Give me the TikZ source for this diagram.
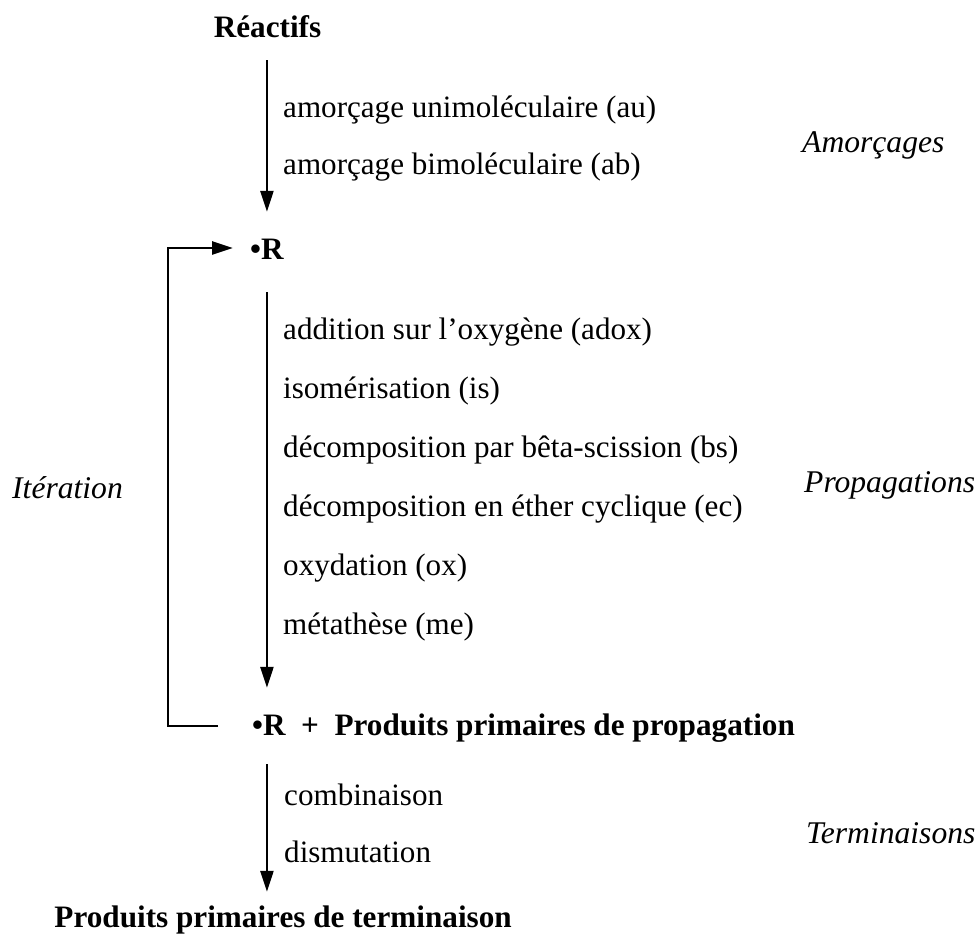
\documentclass[tikz,border=0pt]{standalone}
\usepackage{fontspec}
\setmainfont{Liberation Serif}
\usetikzlibrary{arrows.meta}
\begin{document}
\begin{tikzpicture}[x=1pt,y=-1pt,
  every node/.style={inner sep=0pt,font=\fontsize{31.1}{36}\selectfont},
  main/.style={font=\fontsize{31.2}{36}\selectfont\bfseries,text height=22pt,text depth=7pt},
  lab/.style={anchor=base west},
  phase/.style={anchor=base west,font=\fontsize{31.6}{36}\selectfont\itshape},
  arr/.style={line width=2.6pt,-{Triangle[length=21pt,width=13pt]}},
  brk/.style={line width=2.8pt}]
\useasboundingbox (0,0) rectangle (978,936);
% main species
\node[main,anchor=base] (reac) at (267.5,38) {Réactifs};
\node[main,anchor=base west] (r1) at (250,260) {•R};
\node[main,anchor=base west] (rp) at (252,735) {•R\enspace+\enspace Produits primaires de propagation};
\node[main,anchor=base east] (term) at (512,927) {Produits primaires de terminaison};
% reaction labels
\node[lab] (au) at (283,118) {amorçage unimoléculaire (au)};
\node[lab] (ab) at (283,175) {amorçage bimoléculaire (ab)};
\node[lab] (adox) at (283,339) {addition sur l’oxygène (adox)};
\node[lab] (is) at (283,398) {isomérisation (is)};
\node[lab] (bs) at (283,457) {décomposition par bêta-scission (bs)};
\node[lab] (ec) at (283,516) {décomposition en éther cyclique (ec)};
\node[lab] (ox) at (283,575) {oxydation (ox)};
\node[lab] (me) at (283,634) {métathèse (me)};
\node[lab] (comb) at (284,805) {combinaison};
\node[lab] (dism) at (284,862) {dismutation};
% phase labels
\node[phase] (amo) at (802,153) {Amorçages};
\node[phase] (prop) at (804,492) {Propagations};
\node[phase] (termi) at (806,843) {Terminaisons};
\node[phase] (iter) at (12,498) {Itération};
\coordinate (loop) at (168,490);
% arrows
\draw[arr,shorten <=15pt,shorten >=26pt] (r1.north |- reac.south) -- (r1.north);
\draw[arr,shorten <=25pt,shorten >=25pt] (r1.south) -- (r1.south |- rp.north);
\draw[arr,shorten <=22pt,shorten >=13pt] (r1.south |- rp.south) -- (r1.south |- term.north);
\draw[brk,-{Triangle[length=21pt,width=13pt]},shorten <=34pt,shorten >=17pt]
  ([yshift=1.5pt]rp.west) -- ([yshift=1.5pt]rp.west -| loop) |- ([yshift=4.5pt]r1.west);
\end{tikzpicture}
\end{document}
